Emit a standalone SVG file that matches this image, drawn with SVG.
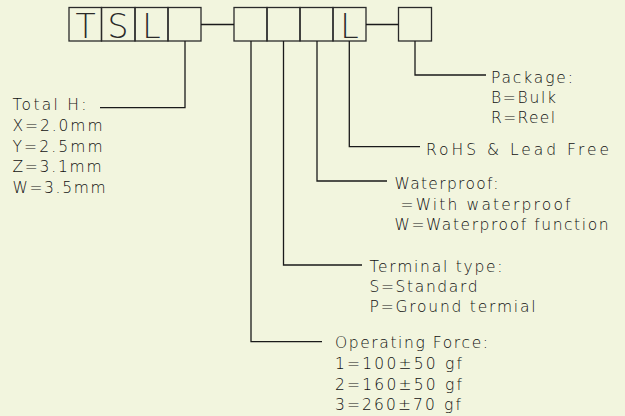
<svg xmlns="http://www.w3.org/2000/svg" width="625" height="416" viewBox="0 0 625 416">
<style>
.bx{fill:none;stroke:#2a2a2a;stroke-width:1.3}
.ln{fill:none;stroke:#1a1a1a;stroke-width:1.3}
.t{font-family:"DejaVu Sans","Liberation Sans",sans-serif;font-size:15.5px;fill:#111;font-weight:200}
.big{font-family:"DejaVu Sans","Liberation Sans",sans-serif;font-size:33px;fill:#2a2a2a;text-anchor:middle;font-weight:200}
</style>
<rect x="0" y="0" width="625" height="416" fill="#f2f5de"/>
<g id="box-T"><rect class="bx" x="69" y="7.5" width="32.5" height="33.5"/><text class="big" x="85.5" y="37.5">T</text></g>
<g id="box-S"><rect class="bx" x="101.5" y="7.5" width="33.5" height="33.5"/><text class="big" x="118" y="37.5">S</text></g>
<g id="box-L1"><rect class="bx" x="135" y="7.5" width="33" height="33.5"/><text class="big" x="151.5" y="37.5">L</text></g>
<g id="box-H"><rect class="bx" x="168" y="7.5" width="33" height="33.5"/></g>
<g id="box-F"><rect class="bx" x="234" y="7.5" width="33" height="33.5"/></g>
<g id="box-TT"><rect class="bx" x="267" y="7.5" width="33" height="33.5"/></g>
<g id="box-W"><rect class="bx" x="300" y="7.5" width="33" height="33.5"/></g>
<g id="box-L2"><rect class="bx" x="333" y="7.5" width="33" height="33.5"/><text class="big" x="349.5" y="37.5">L</text></g>
<g id="box-P"><rect class="bx" x="398.5" y="7.5" width="33" height="33.5"/></g>
<g id="connectors">
<path class="ln" d="M201 24.5H234"/>
<path class="ln" d="M366 24.5H398.5"/>
<path class="ln" d="M185 41V107.7H100"/>
<path class="ln" d="M415 41V75H486"/>
<path class="ln" d="M349.3 41V146.7H420"/>
<path class="ln" d="M317 41V181H387"/>
<path class="ln" d="M283.5 41V265H362"/>
<path class="ln" d="M251 41V341.7H322"/>
</g>
<g id="label-total">
<text class="t" x="12.5" y="110" textLength="74" lengthAdjust="spacing">Total H:</text>
<text class="t" x="12.5" y="131" textLength="90" lengthAdjust="spacing">X=2.0mm</text>
<text class="t" x="12.5" y="151.5" textLength="90" lengthAdjust="spacing">Y=2.5mm</text>
<text class="t" x="12.5" y="172" textLength="89" lengthAdjust="spacing">Z=3.1mm</text>
<text class="t" x="12.5" y="192.5" textLength="93" lengthAdjust="spacing">W=3.5mm</text>
</g>
<g id="label-package">
<text class="t" x="491" y="82.7" textLength="82" lengthAdjust="spacing">Package:</text>
<text class="t" x="491" y="102.7" textLength="65" lengthAdjust="spacing">B=Bulk</text>
<text class="t" x="491" y="122.7" textLength="64" lengthAdjust="spacing">R=Reel</text>
</g>
<g id="label-rohs">
<text class="t" x="426" y="155" textLength="183" lengthAdjust="spacing">RoHS &amp; Lead Free</text>
</g>
<g id="label-waterproof">
<text class="t" x="394.5" y="188.5" textLength="104" lengthAdjust="spacing">Waterproof:</text>
<text class="t" x="400.5" y="209.5" textLength="170" lengthAdjust="spacing">=With waterproof</text>
<text class="t" x="394.5" y="230" textLength="214" lengthAdjust="spacing">W=Waterproof function</text>
</g>
<g id="label-terminal">
<text class="t" x="369.5" y="271.7" textLength="133" lengthAdjust="spacing">Terminal type:</text>
<text class="t" x="369.5" y="292.3" textLength="108" lengthAdjust="spacing">S=Standard</text>
<text class="t" x="369.5" y="312.3" textLength="166" lengthAdjust="spacing">P=Ground termial</text>
</g>
<g id="label-force">
<text class="t" x="335" y="348.3" textLength="153" lengthAdjust="spacing">Operating Force:</text>
<text class="t" x="335" y="369" textLength="127" lengthAdjust="spacing">1=100±50 gf</text>
<text class="t" x="335" y="389.5" textLength="127" lengthAdjust="spacing">2=160±50 gf</text>
<text class="t" x="335" y="410" textLength="126" lengthAdjust="spacing">3=260±70 gf</text>
</g>
</svg>
